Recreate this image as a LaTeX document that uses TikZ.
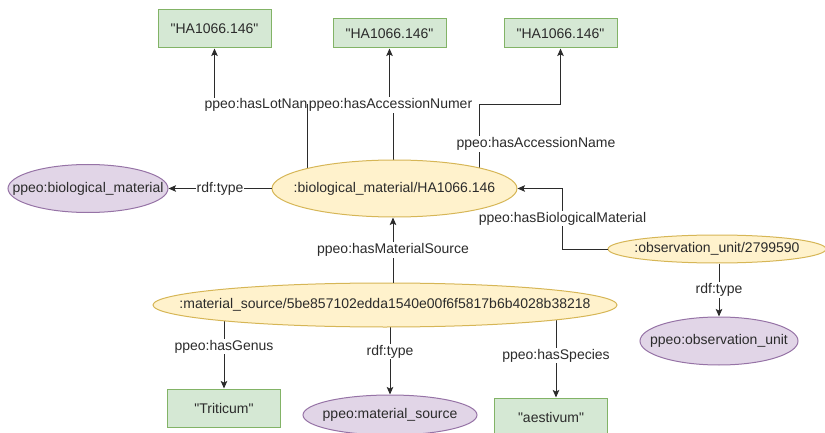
\documentclass[tikz,border=0pt]{standalone}
\usepackage{fontspec}
\setmainfont{Liberation Sans}[Ligatures=TeXOff]
\usetikzlibrary{arrows.meta,calc,backgrounds,shapes.geometric}
\definecolor{litfill}{HTML}{D5E8D4}
\definecolor{litline}{HTML}{82B366}
\definecolor{resfill}{HTML}{FFF2CC}
\definecolor{resline}{HTML}{D6B656}
\definecolor{clsfill}{HTML}{E1D5E7}
\definecolor{clsline}{HTML}{9673A6}
\definecolor{ink}{HTML}{2B2B2B}
\tikzset{
  base/.style={font=\fontsize{14}{16}\selectfont, text=ink, line width=1pt, inner sep=0pt},
  literal/.style={base, rectangle, draw=litline, fill=litfill, minimum width=113pt},
  % negative x padding lets the minimum size fix the ellipse exactly
  resource/.style={base, ellipse, draw=resline, fill=resfill, inner xsep=-60pt},
  class/.style={base, ellipse, draw=clsline, fill=clsfill, inner xsep=-60pt},
  edge/.style={draw=ink, line width=1pt, -{Stealth[length=7.5pt,width=6.5pt,inset=1.5pt]}},
  lbl/.style={font=\fontsize{14}{16}\selectfont, text=ink, fill=white, inner sep=1pt}
}
\begin{document}
\begin{tikzpicture}[x=1pt,y=-1pt]
\useasboundingbox (0,0) rectangle (825,433);

% literal values
\node[literal, minimum height=38pt] (l1) at (214.5,29) {"HA1066.146"};
\node[literal, minimum height=29pt] (l2) at (389.5,33.5) {"HA1066.146"};
\node[literal, minimum height=29pt] (l3) at (560.5,33.5) {"HA1066.146"};
\node[literal, minimum height=38pt] (trit) at (224,408) {"Triticum"};
\node[literal, minimum height=38pt] (aest) at (551,417) {"aestivum"};

% resources
\node[resource, minimum width=245pt, minimum height=57pt] (bio) at (394.5,188.5) {:biological\_material/HA1066.146};
\node[resource, minimum width=218pt, minimum height=28pt] (obs) at (717,249) {:observation\_unit/2799590};
\node[resource, minimum width=464pt, minimum height=44pt] (ms) at (385,305) {:material\_source/5be857102edda1540e00f6f5817b6b4028b38218};

% classes
\node[class, minimum width=160pt, minimum height=48pt] (pbm) at (88,188.5) {ppeo:biological\_material};
\node[class, minimum width=158pt, minimum height=48pt] (pou) at (719,341) {ppeo:observation\_unit};
\node[class, minimum width=174pt, minimum height=40pt] (pms) at (390,415) {ppeo:material\_source};

\begin{pgfonlayer}{background}
  % properties of the biological material
  \draw[edge] ($(bio.center)+(-87.5,0)$) |- (l1.south |- 0,105) -- (l1.south);
  \draw[edge] ($(bio.center)+(-1.5,0)$) |- (l2.south |- 0,105) -- (l2.south);
  \draw[edge] ($(bio.center)+(84.5,0)$) |- (l3.south |- 0,105) -- (l3.south);
  % properties of the material source
  \draw[edge] (trit.north |- ms.center) -- node[lbl, pos=0.5]{ppeo:hasGenus} (trit.north);
  \draw[edge] (pms.north |- ms.center) -- node[lbl, pos=0.52]{rdf:type} (pms.north);
  \draw[edge] ($(aest.north |- ms.center)+(5,0)$) -- node[lbl, pos=0.55]{ppeo:hasSpecies} ($(aest.north)+(5,0)$);
\end{pgfonlayer}

\node[lbl] (accnum) at (390.5,105) {ppeo:hasAccessionNumer};
\node[lbl, anchor=east, inner sep=0pt] (lotname) at (accnum.west) {ppeo:hasLotNan};
\node[lbl] (accname) at (536,144) {ppeo:hasAccessionName};

\draw[edge] (bio.west) -- node[lbl]{rdf:type} (pbm.east);
\draw[edge] (obs.west) -- ++(-45,0) |- node[lbl, pos=0.25]{ppeo:hasBiologicalMaterial} (bio.east);
\draw[edge] (pou.north |- obs.south) -- node[lbl]{rdf:type} (pou.north);
\draw[edge] ([xshift=-1.5pt]bio.south |- ms.north) -- node[lbl]{ppeo:hasMaterialSource} ([xshift=-1.5pt]bio.south);
\end{tikzpicture}
\end{document}
